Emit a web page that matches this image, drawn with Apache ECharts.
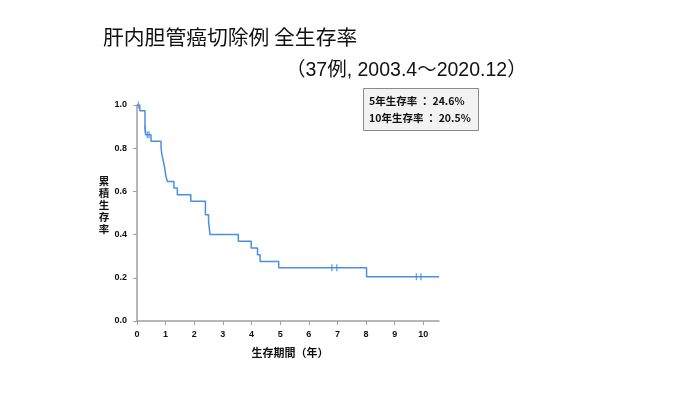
<!DOCTYPE html>
<html>
<head>
<meta charset="utf-8">
<script src="https://cdn.jsdelivr.net/npm/echarts@6/dist/echarts.min.js"></script>
<style>
html,body{margin:0;padding:0;background:#fff;}
#chart{width:700px;height:394px;}
</style>
</head>
<body>
<div id="chart"></div>
<script>
// Kaplan-Meier step points: time (years) and survival after each drop
const stepTimes = [0, 0.10, 0.28, 0.30, 0.49, 0.84, 0.87, 0.92, 0.97, 1.00, 1.06, 1.29, 1.41, 1.88, 2.39, 2.50, 2.55, 3.54, 3.99, 4.21, 4.30, 4.95, 8.02, 10.55];
const stepSurv  = [1.000, 0.973, 0.892, 0.862, 0.832, 0.801, 0.770, 0.739, 0.708, 0.677, 0.646, 0.616, 0.585, 0.554, 0.492, 0.461, 0.400, 0.369, 0.338, 0.307, 0.276, 0.246, 0.205, 0.205];
// Censored observations
const censorTimes = [0.05, 0.29, 0.36, 0.42, 6.81, 6.98, 9.76, 9.92];
const censorSurv  = [1.000, 0.889, 0.862, 0.862, 0.246, 0.246, 0.205, 0.205];
const xTicks = [0,1,2,3,4,5,6,7,8,9,10];
const yTicks = [0, 0.2, 0.4, 0.6, 0.8, 1.0];

const titleText = '肝内胆管癌切除例 全生存率';
const subtitleText = '（37例, 2003.4～2020.12）';
const legendLines = ['5年生存率 ： 24.6%', '10年生存率 ： 20.5%'];
const xName = '生存期間（年）';
const yName = '累積生存率';

const FONT = '"Liberation Sans", Arial, "Noto Sans CJK JP", sans-serif';
const CJK = '"Noto Sans CJK JP", sans-serif';
const LINE = '#4a8fe3';

const chart = echarts.init(document.getElementById('chart'), null, {renderer: 'canvas'});
chart.setOption({
  animation: false,
  backgroundColor: '#fff',
  grid: {left: 137, right: 261, top: 105, bottom: 73, containLabel: false},
  xAxis: {
    type: 'value', min: 0, max: 10.55,
    axisLine: {show: true, lineStyle: {color: '#a0a0a0', width: 1.5}},
    axisTick: {show: true, length: 4, lineStyle: {color: '#a0a0a0'}, customValues: xTicks},
    axisLabel: {customValues: xTicks, color: '#111', fontWeight: 'bold', fontSize: 9, fontFamily: FONT, margin: 9},
    splitLine: {show: false}
  },
  yAxis: {
    type: 'value', min: 0, max: 1.0, interval: 0.2,
    axisLine: {show: true, lineStyle: {color: '#a0a0a0', width: 1.5}},
    axisTick: {show: true, length: 4, lineStyle: {color: '#a0a0a0'}},
    axisLabel: {color: '#111', fontWeight: 'bold', fontSize: 9, fontFamily: FONT, margin: 10,
      formatter: v => v.toFixed(1)},
    splitLine: {show: false}
  },
  series: [
    {
      type: 'line', step: 'end', showSymbol: false, symbol: 'none',
      lineStyle: {color: LINE, width: 1.5},
      data: stepTimes.map((t, i) => [t, stepSurv[i]]),
      z: 2
    },
    {
      type: 'scatter', symbol: 'rect', symbolSize: [1.4, 7],
      itemStyle: {color: LINE},
      data: censorTimes.map((t, i) => [t, censorSurv[i]]),
      z: 3
    }
  ],
  graphic: [
    {type: 'text', x: 103, y: 37.5, style: {text: titleText, fontSize: 20.8, fill: '#111', fontFamily: CJK, verticalAlign: 'middle'}},
    {type: 'text', x: 286, y: 71, style: {text: subtitleText, fontSize: 19.5, fill: '#111', fontFamily: FONT, verticalAlign: 'middle'}},
    {type: 'rect', shape: {x: 363.5, y: 88.5, width: 115, height: 42}, style: {fill: '#f2f2f2', stroke: '#8a8a8a', lineWidth: 1}},
    {type: 'text', x: 369, y: 101, style: {text: legendLines[0], fontSize: 10.5, fontWeight: 'bold', fill: '#111', fontFamily: CJK, verticalAlign: 'middle'}},
    {type: 'text', x: 369, y: 118, style: {text: legendLines[1], fontSize: 10.5, fontWeight: 'bold', fill: '#111', fontFamily: CJK, verticalAlign: 'middle'}},
    {type: 'text', x: 104, y: 205, style: {text: yName.split('').join('\n'), fontSize: 10.5, lineHeight: 11.8, fontWeight: 'bold', fill: '#111', fontFamily: CJK, align: 'center', verticalAlign: 'middle'}},
    {type: 'text', x: 290, y: 353, style: {text: xName, fontSize: 11, fontWeight: 'bold', fill: '#111', fontFamily: CJK, align: 'center', verticalAlign: 'middle'}}
  ]
});
</script>
</body>
</html>
